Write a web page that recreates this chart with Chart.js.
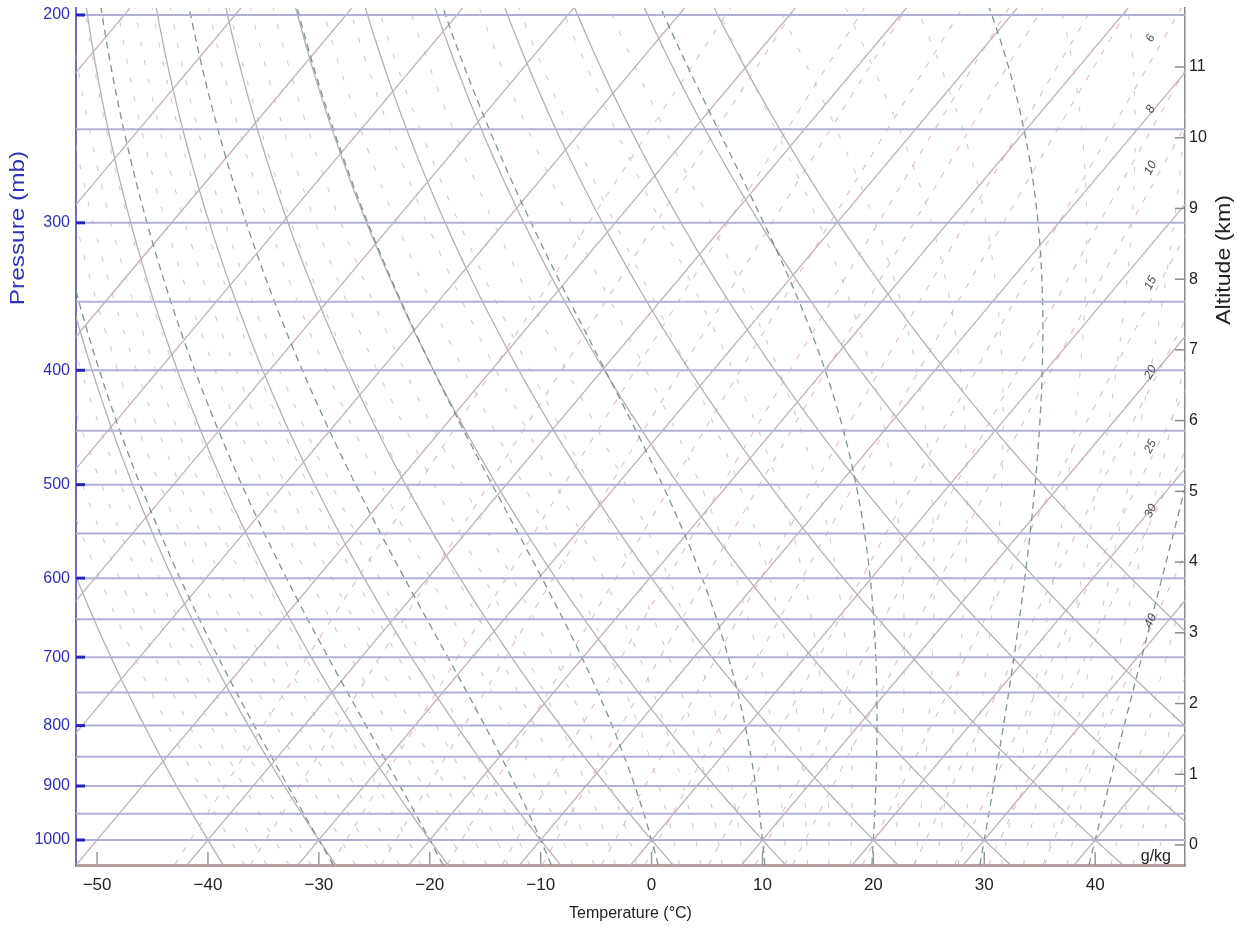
<!DOCTYPE html>
<html>
<head>
<meta charset="utf-8">
<script src="https://cdn.jsdelivr.net/npm/chart.js@4.4.1/dist/chart.umd.min.js"></script>
<style>
  body { margin: 0; background: #fff; }
  #wrap { width: 1238px; height: 930px; }
</style>
</head>
<body>
<div id="wrap"><canvas id="skewt" width="1238" height="930"></canvas></div>
<script>
// axis ticks
const tempTicks = [-50, -40, -30, -20, -10, 0, 10, 20, 30, 40];
const pressureTicks = [200, 300, 400, 500, 600, 700, 800, 900, 1000];
const altitudeTicks = [0, 1, 2, 3, 4, 5, 6, 7, 8, 9, 10, 11];

// background lines of the diagram
const isobarLevels = [200, 250, 300, 350, 400, 450, 500, 550, 600, 650, 700, 750, 800, 850, 900, 950, 1000];
const isothermTemps = [-110, -100, -90, -80, -70, -60, -50, -40, -30, -20, -10, 0, 10, 20, 30, 40];
const dryAdiabats = [-50, -40, -30, -20, -10, 0, 10, 20, 30, 40, 50, 60, 70, 80, 90, 100, 110, 120, 130];
const moistAdiabats = [-30, -20, -10, 0, 10, 20, 30, 40];
const faintMoist = [-38, -36, -34, -32, -28, -26, -24, -22, -18, -16, -14, -12, -8, -6, -4, -2,
  2, 4, 6, 8, 12, 14, 16, 18, 22, 24, 26, 28, 32, 34, 36, 38, 42, 44, 46];
const mixingRatios = [0.1, 0.2, 0.4, 0.6, 1, 1.5, 2, 3, 4, 6, 8, 10, 15, 20, 25, 30, 40];
const mixingLabels = [6, 8, 10, 15, 20, 25, 30, 40];

const SKEW = 38.8;          // degC per ln(p) unit
const P_TOP = 197.3, P_BOT = 1050;
const T_MIN = -51.9, T_MAX = 48.1;

const skewX = (t, p) => t + SKEW * Math.log(1000 / p);

// pressures used to trace the curved lines
const levels = [];
for (let p = P_BOT; p >= P_TOP - 5; p -= 5) levels.push(p);

function satVap(tc) { return 6.112 * Math.exp(17.67 * tc / (tc + 243.5)); }
function dewFromMix(w, p) {
  const e = w * p / (622 + w);
  const l = Math.log(e / 6.112);
  return 243.5 * l / (17.67 - l);
}
function moistSlope(tk, p) {
  const es = satVap(tk - 273.15);
  const rs = 0.622 * es / (p - es);
  const Lv = 2.501e6, Rd = 287.04, cp = 1005.7;
  return (Rd * tk + Lv * rs) / (p * (cp + Lv * Lv * rs * 0.622 / (Rd * tk * tk)));
}
function moistPoints(t0) {
  const step = (tk, p, dp) => {
    const k1 = moistSlope(tk, p);
    const k2 = moistSlope(tk + dp * k1, p + dp);
    return tk + dp * (k1 + k2) / 2;
  };
  let tk = t0 + 273.15, p = 1000;
  const up = [{ x: skewX(t0, 1000), y: 1000 }];
  while (p > P_TOP - 5) { tk = step(tk, p, -5); p -= 5; up.push({ x: skewX(tk - 273.15, p), y: p }); }
  tk = t0 + 273.15; p = 1000;
  const down = [];
  while (p < P_BOT) { tk = step(tk, p, 5); p += 5; down.unshift({ x: skewX(tk - 273.15, p), y: p }); }
  return down.concat(up);
}
const dryPoints = th => levels.map(p => ({ x: skewX((th + 273.15) * Math.pow(p / 1000, 0.2857) - 273.15, p), y: p }));
const mixPoints = w => levels.map(p => ({ x: skewX(dewFromMix(w, p), p), y: p }));

const line = (data, color, width, dash) => ({
  data, borderColor: color, borderWidth: width, borderDash: dash || [],
  showLine: true, pointRadius: 0, fill: false, tension: 0
});

const datasets = [];
isobarLevels.forEach(p => datasets.push(line([{ x: T_MIN - 5, y: p }, { x: T_MAX + 5, y: p }], 'rgb(176,176,214)', 2)));
moistAdiabats.forEach(t => datasets.push(line(moistPoints(t), 'rgba(110,140,125,0.9)', 1.3, [7, 5])));
isothermTemps.forEach(t => datasets.push(line([{ x: skewX(t, P_BOT), y: P_BOT }, { x: skewX(t, P_TOP), y: P_TOP }], 'rgb(198,176,188)', 1.3)));
dryAdiabats.forEach(t => datasets.push(line(dryPoints(t), 'rgb(178,178,178)', 1.3)));
mixingRatios.forEach(w => datasets.push(line(mixPoints(w), 'rgba(215,165,190,0.75)', 1.1, [6, 9])));
faintMoist.forEach(t => datasets.push(line(moistPoints(t), 'rgba(190,175,210,0.7)', 1.1, [5, 14])));

Chart.defaults.font.family = '"Liberation Sans", Arial, sans-serif';

const fixTicks = vals => s => { s.ticks = vals.map(v => ({ value: v })); };
const noPadV = w => s => { s.width = w; s.paddingTop = 0; s.paddingBottom = 0; };

function sideTitle(ctx, text, x, y, color, size, stretch) {
  ctx.save();
  ctx.translate(x, y);
  ctx.rotate(-Math.PI / 2);
  ctx.scale(stretch, 1);
  ctx.font = size + 'px "Liberation Sans", Arial, sans-serif';
  ctx.fillStyle = color;
  ctx.textAlign = 'center';
  ctx.textBaseline = 'middle';
  ctx.fillText(text, 0, 0);
  ctx.restore();
}

// extra drawing: inward tick marks, side titles, mixing ratio labels
const decor = {
  id: 'decor',
  afterDraw(chart) {
    const { ctx, chartArea: a, scales } = chart;
    const xs = scales.x, ys = scales.y, zs = scales.alt;
    ctx.save();
    ctx.lineWidth = 3;
    ctx.strokeStyle = '#2626b4';
    pressureTicks.forEach(p => {
      const y = ys.getPixelForValue(p);
      ctx.beginPath(); ctx.moveTo(a.left, y); ctx.lineTo(a.left + 9, y); ctx.stroke();
    });
    ctx.lineWidth = 1.5;
    ctx.strokeStyle = '#8a8a8a';
    altitudeTicks.forEach(k => {
      const y = zs.getPixelForValue(k);
      ctx.beginPath(); ctx.moveTo(a.right - 10, y); ctx.lineTo(a.right, y); ctx.stroke();
    });
    ctx.strokeStyle = '#999';
    tempTicks.forEach(t => {
      const x = xs.getPixelForValue(t);
      ctx.beginPath(); ctx.moveTo(x, a.bottom); ctx.lineTo(x, a.bottom - 13); ctx.stroke();
    });

    sideTitle(ctx, 'Pressure (mb)', 18, 228, '#3030b8', 21, 1.16);
    sideTitle(ctx, 'Altitude (km)', 1224, 260, '#222', 21, 1.1);

    ctx.font = '16px "Liberation Sans", Arial, sans-serif';
    ctx.fillStyle = '#222';
    ctx.textAlign = 'right';
    ctx.textBaseline = 'alphabetic';
    ctx.fillText('g/kg', a.right - 14, a.bottom - 4);

    // labels along the mixing ratio lines, on a slightly tilted column near the right edge
    ctx.font = 'italic 12px "Liberation Sans", Arial, sans-serif';
    ctx.fillStyle = '#4a4a4a';
    ctx.textAlign = 'center';
    ctx.textBaseline = 'middle';
    const column = p => 44.96 + 0.8 * Math.log(1000 / p);
    mixingLabels.forEach(w => {
      let lo = P_TOP - 20, hi = P_BOT;
      for (let i = 0; i < 40; i++) {
        const mid = (lo + hi) / 2;
        if (skewX(dewFromMix(w, mid), mid) > column(mid)) lo = mid; else hi = mid;
      }
      const p = (lo + hi) / 2;
      const x0 = xs.getPixelForValue(skewX(dewFromMix(w, p * 1.03), p * 1.03)), y0 = ys.getPixelForValue(p * 1.03);
      const x1 = xs.getPixelForValue(skewX(dewFromMix(w, p / 1.03), p / 1.03)), y1 = ys.getPixelForValue(p / 1.03);
      ctx.save();
      ctx.translate(xs.getPixelForValue(45), ys.getPixelForValue(p));
      ctx.rotate(Math.atan2(y1 - y0, x1 - x0));
      ctx.fillText(String(w), 0, 0);
      ctx.restore();
    });
    ctx.restore();
  }
};

new Chart(document.getElementById('skewt'), {
  type: 'scatter',
  data: { datasets },
  options: {
    responsive: false,
    animation: false,
    events: [],
    parsing: false,
    layout: { padding: { top: 8, left: 0, right: 0, bottom: 0 } },
    plugins: { legend: { display: false }, tooltip: { enabled: false } },
    scales: {
      x: {
        type: 'linear', position: 'bottom', min: T_MIN, max: T_MAX,
        afterBuildTicks: fixTicks(tempTicks),
        afterFit: s => { s.height = 65; s.paddingLeft = 0; s.paddingRight = 0; },
        grid: { display: false, drawTicks: false },
        border: { display: true, color: 'rgb(180,160,160)', width: 3 },
        ticks: { autoSkip: false, maxRotation: 0, padding: 10, color: '#222', font: { size: 17 },
          callback: v => v < 0 ? '\u2212' + Math.abs(v) : String(v) },
        title: { display: true, text: 'Temperature (°C)', color: '#222', font: { size: 16 }, padding: { top: 0, bottom: 7 } }
      },
      y: {
        type: 'logarithmic', position: 'left', reverse: true, min: P_TOP, max: P_BOT,
        afterBuildTicks: fixTicks(pressureTicks),
        afterFit: noPadV(76),
        grid: { display: false, drawTicks: false },
        border: { display: true, color: 'rgb(110,110,190)', width: 2 },
        ticks: { autoSkip: false, padding: 6, color: '#2f2fb4', font: { size: 16 }, callback: v => String(v) }
      },
      alt: {
        type: 'linear', position: 'right', min: -0.283, max: 11.834,
        afterBuildTicks: fixTicks(altitudeTicks),
        afterFit: noPadV(53),
        grid: { display: false, drawTicks: false },
        border: { display: true, color: '#8a8a8a', width: 1.5 },
        ticks: { autoSkip: false, padding: 4, color: '#222', font: { size: 16 }, callback: v => String(v) }
      }
    }
  },
  plugins: [decor]
});
</script>
</body>
</html>
